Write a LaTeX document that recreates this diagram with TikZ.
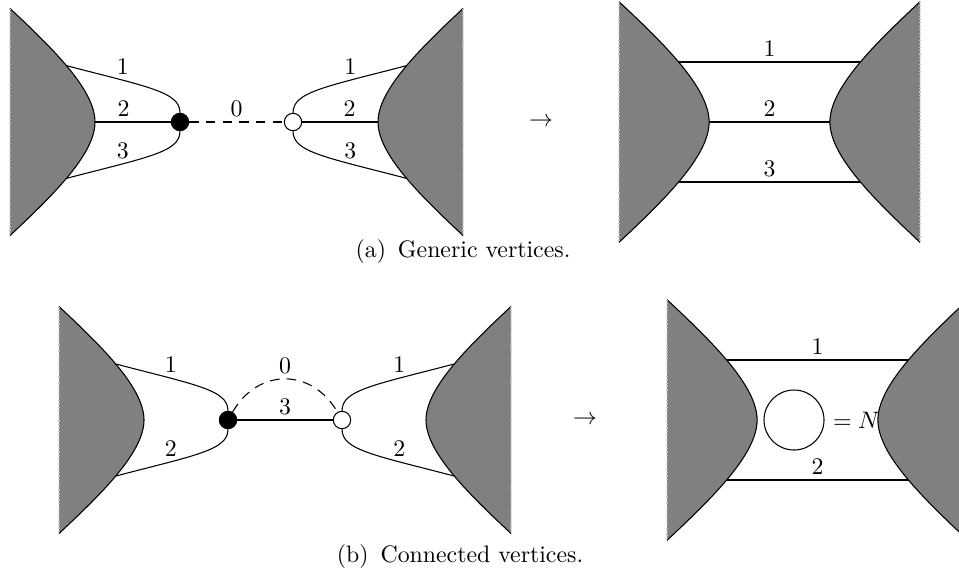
\documentclass[tikz,border=0pt]{standalone}
\usepackage{tikz}
\usetikzlibrary{positioning}
\definecolor{blobgray}{rgb}{0.5,0.5,0.5}

\tikzset{
	vertex/.style={circle,draw,inner sep=0pt,minimum size=7.3pt},
	lbl/.style={above,inner sep=2pt},
	ghost/.style={dash pattern=on 4pt off 3pt},
	blob/.pic={
		\fill[blobgray] (0,-113.5) .. controls (45,-71.5) and (85,-31.5) .. (85,0)
		.. controls (85,31.5) and (45,71.5) .. (0,113.5) -- cycle;
		\draw (0,-113.5) .. controls (45,-71.5) and (85,-31.5) .. (85,0)
		.. controls (85,31.5) and (45,71.5) .. (0,113.5);
		\draw[gray!45,densely dotted] (0,-113.5) -- (0,113.5);
	}
}

\begin{document}
\begin{tikzpicture}[x=0.42pt,y=-0.42pt,line width=0.45pt]
	\useasboundingbox (0,0) rectangle (959,574);
	
	%----------------------------------------------------------------
	\node(blackA) [vertex,fill=black] at (180,122) {};
	\node(whiteA) [vertex,fill=white] at (293,122) {};
	\coordinate (a1) at (64,65);
	\coordinate (a2) at (92,122);
	\coordinate (a3) at (64,179);
	\coordinate (a4) at (409,65);
	\coordinate (a5) at (381,122);
	\coordinate (a6) at (409,179);
	
	\draw (a1) .. controls +(84,22) and +(0,-21) .. (blackA.north) node[lbl,pos=.28] {1};
	\draw (a2) -- (blackA) node[lbl,pos=.4] {2};
	\draw (a3) .. controls +(84,-22) and +(0,21) .. (blackA.south) node[lbl,pos=.28] {3};
	\draw[ghost] (blackA) -- (whiteA) node[lbl,midway] {0};
	\draw (whiteA.north) .. controls +(0,-21) and +(-84,22) .. (a4) node[lbl,pos=.72] {1};
	\draw (whiteA) -- (a5) node[lbl,pos=.6] {2};
	\draw (whiteA.south) .. controls +(0,21) and +(-84,-22) .. (a6) node[lbl,pos=.72] {3};
	
	\pic at (10,122) {blob};
	\pic[xscale=-1] at (463,122) {blob};
	
	\node(toA) at (541,122) {$\rightarrow$};
	
	%----------------------------------------------------------------
	\coordinate (r1) at (676,62);
	\coordinate (r2) at (706,122);
	\coordinate (r3) at (676,182);
	\coordinate (r4) at (863,62);
	\coordinate (r5) at (833,122);
	\coordinate (r6) at (863,182);
	
	\draw (r1) -- (r4) node[lbl,midway] {1};
	\draw (r2) -- (r5) node[lbl,midway] {2};
	\draw (r3) -- (r6) node[lbl,midway] {3};
	
	\pic[scale=1.06] at (619,122) {blob};
	\pic[xscale=-1.06,yscale=1.06] at (920,122) {blob};
	
	\node(capA) at (463,252) {(a)\hspace{0.5em}Generic vertices.};
	
	%----------------------------------------------------------------
	\node(blackB) [vertex,fill=black] at (228,420) {};
	\node(whiteB) [vertex,fill=white] at (342,420) {};
	\coordinate (b1) at (112,363);
	\coordinate (b3) at (112,477);
	\coordinate (b4) at (458,363);
	\coordinate (b6) at (458,477);
	
	\draw (b1) .. controls +(84,22) and +(0,-21) .. (blackB.north) node[lbl,pos=.28] {1};
	\draw (b3) .. controls +(84,-22) and +(0,21) .. (blackB.south) node[lbl,pos=.28] {2};
	\draw (blackB) -- (whiteB) node[lbl,midway] {3};
	\draw[ghost] (blackB.60) to[out=60,in=120,looseness=1.25] node[lbl,midway] {0} (whiteB.120);
	\draw (whiteB.north) .. controls +(0,-21) and +(-84,22) .. (b4) node[lbl,pos=.72] {1};
	\draw (whiteB.south) .. controls +(0,21) and +(-84,-22) .. (b6) node[lbl,pos=.72] {2};
	
	\pic at (59,420) {blob};
	\pic[xscale=-1] at (511,420) {blob};
	
	\node(toB) at (585,420) {$\rightarrow$};
	
	%----------------------------------------------------------------
	\coordinate (s1) at (724,360);
	\coordinate (s2) at (724,480);
	\coordinate (s3) at (911,360);
	\coordinate (s4) at (911,480);
	
	\draw (s1) -- (s3) node[lbl,midway] {1};
	\draw (s2) -- (s4) node[lbl,midway] {2};
	
	\pic[scale=1.06] at (667,420) {blob};
	\pic[xscale=-1.06,yscale=1.06] at (968,420) {blob};
	
	\node(loop) [circle,draw,inner sep=0pt,minimum size=25.2pt] at (794,420) {};
	\node(eqN) [right=0pt of loop] {$=N$};
	
	\node(capB) at (460,557) {(b)\hspace{0.5em}Connected vertices.};
	
\end{tikzpicture}
\end{document}
